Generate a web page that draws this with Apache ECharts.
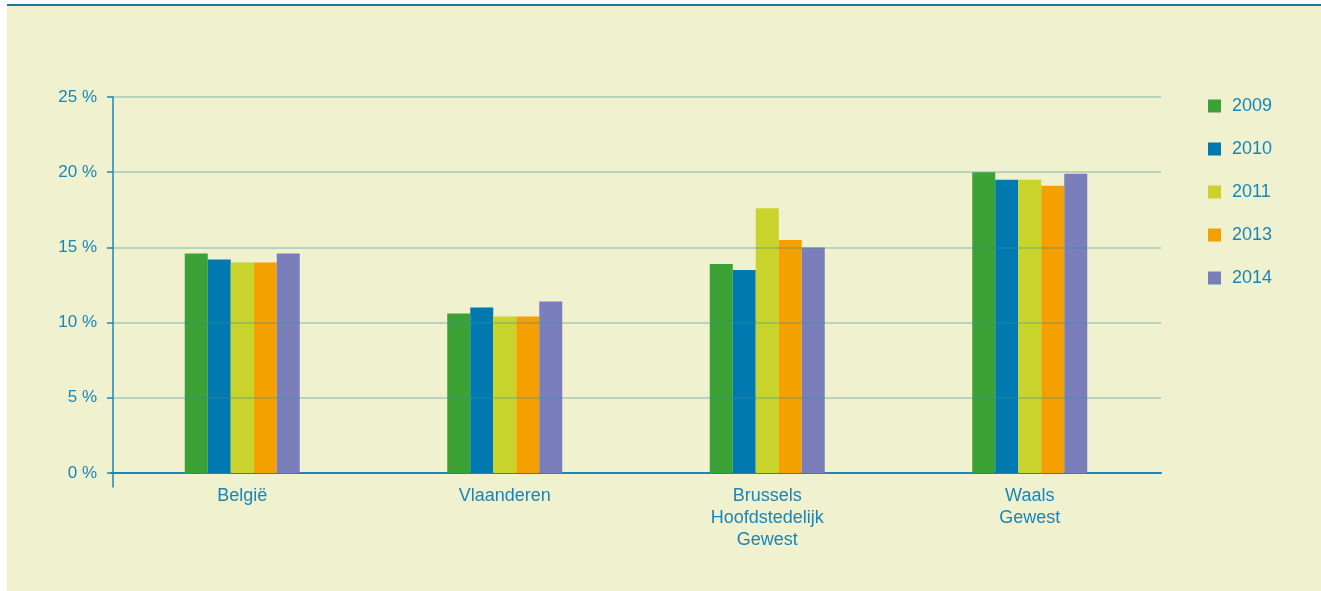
<!DOCTYPE html>
<html>
<head>
<meta charset="utf-8">
<script src="https://cdn.jsdelivr.net/npm/echarts@6/dist/echarts.min.js"></script>
<style>
  html, body { margin: 0; padding: 0; background: #ffffff; }
  #panel {
    position: absolute; left: 7px; top: 4px; width: 1314px; height: 586px;
    background: #f0f1cf; border-top: 2px solid #1b7b98;
  }
  #chart { position: absolute; left: 0; top: 0; width: 1321px; height: 591px; }
</style>
</head>
<body>
<div id="panel"></div>
<div id="chart"></div>
<script>
const regions = ['België', 'Vlaanderen', 'Brussels\nHoofdstedelijk\nGewest', 'Waals\nGewest'];
const years = ['2009', '2010', '2011', '2013', '2014'];
const values2009 = [14.6, 10.6, 13.9, 20.0];
const values2010 = [14.2, 11.0, 13.5, 19.5];
const values2011 = [14.0, 10.4, 17.6, 19.5];
const values2013 = [14.0, 10.4, 15.5, 19.1];
const values2014 = [14.6, 11.4, 15.0, 19.9];
const yTicks = [0, 5, 10, 15, 20, 25];

const colors = ['#3ca235', '#0079b0', '#c8d42c', '#f4a000', '#7a7fbb'];
const textBlue = '#1a85b8';
const font = 'Liberation Sans';
const seriesValues = [values2009, values2010, values2011, values2013, values2014];

const series = years.map((year, i) => {
  const s = {
    name: year,
    type: 'bar',
    data: seriesValues[i],
    barWidth: 23,
    barGap: '0%',
    itemStyle: { color: colors[i] }
  };
  // grid lines sit on top of the bars in the original
  if (i === years.length - 1) {
    s.markLine = {
      silent: true,
      symbol: 'none',
      label: { show: false },
      lineStyle: { color: 'rgba(60,140,150,0.4)', width: 1.5, type: 'solid' },
      data: yTicks.slice(1).map(v => ({ yAxis: v }))
    };
  }
  return s;
});

const chart = echarts.init(document.getElementById('chart'));
chart.setOption({
  animation: false,
  textStyle: { fontFamily: font },
  legend: {
    orient: 'vertical',
    left: 1208,
    top: 97,
    padding: 0,
    itemWidth: 13,
    itemHeight: 13,
    itemGap: 25,
    icon: 'rect',
    textStyle: { color: textBlue, fontSize: 18, fontFamily: font, padding: [0, 0, 0, 6] },
    data: years
  },
  grid: { left: 111, right: 160, top: 97, bottom: 104 },
  xAxis: {
    type: 'category',
    data: regions,
    axisLine: { onZero: true, lineStyle: { color: '#1a86b9', width: 2 } },
    axisTick: { show: false },
    axisLabel: { color: textBlue, fontSize: 18, fontFamily: font, margin: -2, lineHeight: 22 }
  },
  yAxis: {
    type: 'value',
    min: -0.93,
    max: 25,
    offset: -2,
    axisLine: { show: true, lineStyle: { color: '#1a86b9', width: 1.5 } },
    axisTick: { show: true, length: 6, customValues: yTicks, lineStyle: { color: '#1a86b9', width: 1.5 } },
    axisLabel: {
      color: textBlue, fontSize: 17, fontFamily: font, margin: 16,
      customValues: yTicks,
      formatter: v => v + ' %'
    },
    splitLine: { show: false }
  },
  series: series
});
</script>
</body>
</html>
